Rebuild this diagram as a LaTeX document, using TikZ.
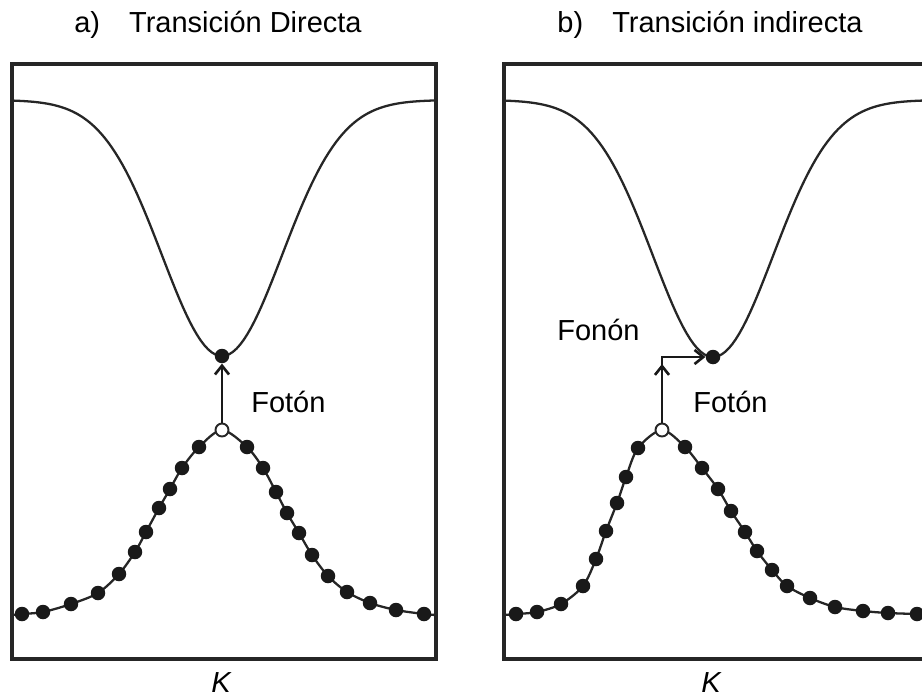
\documentclass[tikz,border=0pt]{standalone}
\usepackage{fontspec}
\setmainfont{Liberation Sans}
\usetikzlibrary{arrows.meta}

\begin{document}
\begin{tikzpicture}[x=0.02cm, y=-0.02cm,
		marco/.style={line width=2.3pt, black!85},
		banda/.style={line width=1.3pt, black!85},
		electron/.style={circle, fill=black!90, inner sep=0pt, minimum size=0.29cm},
		hueco/.style={circle, draw=black!85, fill=white, line width=1.1pt, inner sep=0pt, minimum size=0.26cm},
		foton/.style={line width=1.5pt, black!90, -{Straight Barb[length=5pt,width=8pt]}},
		etiqueta/.style={font=\fontsize{16.5}{19}\selectfont, inner sep=0pt}
		]
		\useasboundingbox (0,0) rectangle (922,696);
		% a) transicion directa
		\draw[marco] (12,64) rectangle (436,659);
		\draw[banda] plot[domain=-210:214, samples=120] ({222+\x}, {356-256*(1-exp(-0.5*(\x/60)*(\x/60)))});
		\draw[banda] plot[smooth] coordinates {(12,615) (22,614) (43,612) (71,604) (98,593) (119,574) (135,552) (146,532) (159,508) (170,489) (182,468) (199,447) (222,430) (247,447) (263,468) (276,492) (287,513) (299,533) (312,555) (328,576) (347,592) (370,603) (396,610) (424,614) (436,615)};
		\foreach \p [count=\i] in {(22,614),(43,612),(71,604),(98,593),(119,574),(135,552),(146,532),(159,508),(170,489),(182,468),(199,447),(247,447),(263,468),(276,492),(287,513),(299,533),(312,555),(328,576),(347,592),(370,603),(396,610),(424,614)}
			\node[electron] (vA\i) at \p {};
		\node[hueco] (huecoA) at (222,430) {};
		\node[electron] (cbA) at (222,356) {};
		\draw[foton] (huecoA) -- (cbA);
		\node[etiqueta, anchor=base west] (fotonA) at (251,412) {Fotón};
		\node[etiqueta, anchor=base] (tituloA) at (218,33) {a)\quad Transición Directa};
		\node[etiqueta, anchor=base] (kA) at (221,692) {\itshape K};
		
		% b) transicion indirecta
		\draw[marco] (922,64) -- (504,64) -- (504,659) -- (922,659);
		\draw[banda] plot[domain=-209:209, samples=120] ({713+\x}, {357-257*(1-exp(-0.5*(\x/60)*(\x/60)))});
		\draw[banda] plot[smooth] coordinates {(504,615) (516,614) (537,612) (561,604) (583,586) (596,559) (606,531) (617,503) (626,477) (638,448) (662,430) (685,447) (702,468) (718,489) (731,511) (745,532) (757,551) (772,570) (787,586) (810,598) (835,607) (863,611) (888,613) (917,614) (922,614)};
		\foreach \p [count=\i] in {(516,614),(537,612),(561,604),(583,586),(596,559),(606,531),(617,503),(626,477),(638,448),(685,447),(702,468),(718,489),(731,511),(745,532),(757,551),(772,570),(787,586),(810,598),(835,607),(863,611),(888,613),(917,614)}
			\node[electron] (vB\i) at \p {};
		\node[hueco] (huecoB) at (662,430) {};
		\node[electron] (cbB) at (713,357) {};
		\coordinate (punta) at (662,364);
		\draw[foton] (huecoB) |- (cbB);
		\draw[foton] (huecoB) -- (punta);
		\node[etiqueta, anchor=base west] (fonon) at (557,340) {Fonón};
		\node[etiqueta, anchor=base west] (fotonB) at (693,412) {Fotón};
		\node[etiqueta, anchor=base] (tituloB) at (710,33) {b)\quad Transición indirecta};
		\node[etiqueta, anchor=base] (kB) at (711,692) {\itshape K};
	\end{tikzpicture}
\end{document}
